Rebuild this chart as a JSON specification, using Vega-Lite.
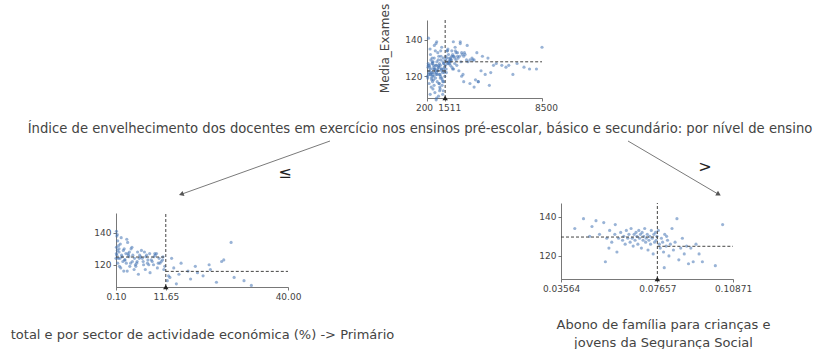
{
 "$schema": "https://vega.github.io/schema/vega-lite/v6.json",
 "padding": {"left": 0, "top": 3, "right": 0, "bottom": 0},
 "background": "white",
 "config": {
  "view": {"stroke": null},
  "font": "DejaVu Sans",
  "axis": {"domainColor": "#555555", "domainWidth": 0.8, "tickColor": "#555555", "tickSize": 3, "tickWidth": 0.8, "labelColor": "#444443", "labelFont": "DejaVu Sans", "labelFontSize": 9, "labelOverlap": false, "labelFlush": false, "labelPadding": 2, "grid": false, "titleFont": "DejaVu Sans", "titleFontWeight": "normal", "titleColor": "#444443"}
 },
 "datasets": {
  "pts": [
   {"indice":850,"primario":0.3,"exames":138},{"indice":420,"primario":0.5,"exames":135},{"indice":1210,"primario":0.2,"exames":131},{"indice":640,"primario":0.8,"exames":128},{"indice":980,"primario":1.1,"exames":133},{"indice":300,"primario":1.4,"exames":126},{"indice":1390,"primario":0.6,"exames":124},{"indice":720,"primario":2.0,"exames":130},{"indice":560,"primario":1.7,"exames":122},{"indice":1100,"primario":2.4,"exames":127},
   {"indice":260,"primario":0.9,"exames":119},{"indice":1450,"primario":3.1,"exames":125},{"indice":800,"primario":2.8,"exames":134},{"indice":930,"primario":3.5,"exames":121},{"indice":480,"primario":0.4,"exames":129},{"indice":1300,"primario":1.2,"exames":118},{"indice":670,"primario":4.0,"exames":126},{"indice":1050,"primario":3.8,"exames":131},{"indice":380,"primario":2.2,"exames":123},{"indice":1180,"primario":4.6,"exames":120},
   {"indice":590,"primario":5.1,"exames":128},{"indice":1420,"primario":0.2,"exames":127},{"indice":760,"primario":5.5,"exames":124},{"indice":350,"primario":1.9,"exames":116},{"indice":1010,"primario":6.0,"exames":129},{"indice":890,"primario":6.4,"exames":122},{"indice":1260,"primario":2.6,"exames":136},{"indice":520,"primario":3.3,"exames":119},{"indice":700,"primario":7.0,"exames":125},{"indice":1140,"primario":7.4,"exames":121},
   {"indice":450,"primario":0.7,"exames":132},{"indice":1340,"primario":4.3,"exames":117},{"indice":610,"primario":7.9,"exames":127},{"indice":960,"primario":8.3,"exames":123},{"indice":270,"primario":5.8,"exames":125},{"indice":1480,"primario":8.8,"exames":120},{"indice":830,"primario":9.2,"exames":126},{"indice":1070,"primario":1.5,"exames":125},{"indice":540,"primario":9.7,"exames":118},{"indice":1230,"primario":10.1,"exames":124},
   {"indice":740,"primario":10.6,"exames":122},{"indice":400,"primario":11.0,"exames":125},{"indice":1160,"primario":11.4,"exames":119},{"indice":880,"primario":3.0,"exames":126},{"indice":330,"primario":4.9,"exames":121},{"indice":1360,"primario":6.7,"exames":128},{"indice":620,"primario":2.5,"exames":121},{"indice":1040,"primario":0.3,"exames":126},{"indice":780,"primario":1.0,"exames":124},{"indice":1290,"primario":8.0,"exames":115},
   {"indice":460,"primario":6.2,"exames":124},{"indice":990,"primario":4.4,"exames":124},{"indice":1400,"primario":9.5,"exames":127},{"indice":570,"primario":3.6,"exames":130},{"indice":1120,"primario":5.3,"exames":114},{"indice":690,"primario":7.7,"exames":120},{"indice":290,"primario":2.9,"exames":127},{"indice":1460,"primario":10.9,"exames":123},{"indice":860,"primario":0.5,"exames":121},{"indice":1200,"primario":1.8,"exames":129},
   {"indice":510,"primario":8.5,"exames":122},{"indice":940,"primario":6.9,"exames":117},{"indice":1320,"primario":3.9,"exames":122},{"indice":650,"primario":0.1,"exames":124},{"indice":1080,"primario":9.9,"exames":121},{"indice":370,"primario":7.2,"exames":126},{"indice":820,"primario":4.7,"exames":119},{"indice":1250,"primario":2.1,"exames":123},{"indice":430,"primario":10.3,"exames":121},{"indice":1170,"primario":5.6,"exames":126},
   {"indice":730,"primario":1.3,"exames":137},{"indice":1020,"primario":8.9,"exames":125},{"indice":600,"primario":11.2,"exames":117},{"indice":1380,"primario":0.8,"exames":130},{"indice":910,"primario":3.2,"exames":128},{"indice":240,"primario":6.5,"exames":120},{"indice":1090,"primario":2.7,"exames":116},{"indice":550,"primario":9.1,"exames":127},{"indice":1440,"primario":5.0,"exames":122},{"indice":790,"primario":7.5,"exames":123},
   {"indice":310,"primario":0.2,"exames":141},{"indice":900,"primario":0.4,"exames":139},
   {"indice":1150,"primario":12.3,"exames":113},{"indice":680,"primario":13.5,"exames":118},{"indice":1330,"primario":12.0,"exames":110},{"indice":470,"primario":15.2,"exames":121},{"indice":1060,"primario":16.8,"exames":116},{"indice":890,"primario":14.1,"exames":108},{"indice":1270,"primario":18.5,"exames":119},{"indice":630,"primario":20.3,"exames":113},{"indice":1410,"primario":22.0,"exames":117},{"indice":770,"primario":17.4,"exames":111},
   {"indice":340,"primario":24.6,"exames":122},{"indice":1190,"primario":26.8,"exames":134},{"indice":950,"primario":25.1,"exames":123},{"indice":580,"primario":21.7,"exames":120},{"indice":1370,"primario":27.5,"exames":112},{"indice":710,"primario":19.0,"exames":115},{"indice":1030,"primario":23.4,"exames":109},{"indice":430,"primario":29.8,"exames":110},{"indice":1240,"primario":13.0,"exames":124},{"indice":860,"primario":31.5,"exames":107},
   {"indice":500,"primario":14.7,"exames":114},{"indice":1110,"primario":12.6,"exames":112},
   {"indice":1650,"abono":0.0415,"exames":134},{"indice":2100,"abono":0.0452,"exames":139},{"indice":1800,"abono":0.0478,"exames":130},{"indice":2600,"abono":0.0505,"exames":138},{"indice":1560,"abono":0.0520,"exames":131},{"indice":3100,"abono":0.0538,"exames":137},{"indice":1950,"abono":0.0551,"exames":129},{"indice":2300,"abono":0.0563,"exames":133},{"indice":1720,"abono":0.0572,"exames":127},{"indice":2850,"abono":0.0585,"exames":131},
   {"indice":1600,"abono":0.0594,"exames":122},{"indice":3600,"abono":0.0601,"exames":129},{"indice":2050,"abono":0.0610,"exames":132},{"indice":1900,"abono":0.0618,"exames":128},{"indice":2450,"abono":0.0623,"exames":130},{"indice":1530,"abono":0.0629,"exames":126},{"indice":2700,"abono":0.0634,"exames":133},{"indice":1850,"abono":0.0640,"exames":129},{"indice":4200,"abono":0.0645,"exames":131},{"indice":2200,"abono":0.0650,"exames":127},
   {"indice":1680,"abono":0.0654,"exames":134},{"indice":3300,"abono":0.0659,"exames":129},{"indice":2000,"abono":0.0663,"exames":125},{"indice":2550,"abono":0.0667,"exames":131},{"indice":1770,"abono":0.0671,"exames":128},{"indice":2950,"abono":0.0675,"exames":132},{"indice":1620,"abono":0.0679,"exames":130},{"indice":2350,"abono":0.0683,"exames":126},{"indice":3800,"abono":0.0687,"exames":133},{"indice":1930,"abono":0.0690,"exames":129},
   {"indice":2150,"abono":0.0694,"exames":131},{"indice":1580,"abono":0.0698,"exames":124},{"indice":2750,"abono":0.0701,"exames":132},{"indice":1820,"abono":0.0705,"exames":128},{"indice":4600,"abono":0.0708,"exames":130},{"indice":2250,"abono":0.0712,"exames":134},{"indice":1700,"abono":0.0716,"exames":127},{"indice":3050,"abono":0.0719,"exames":129},{"indice":1980,"abono":0.0723,"exames":131},{"indice":2500,"abono":0.0726,"exames":123},
   {"indice":1640,"abono":0.0730,"exames":128},{"indice":3450,"abono":0.0733,"exames":130},{"indice":1880,"abono":0.0737,"exames":126},{"indice":2400,"abono":0.0740,"exames":133},{"indice":1540,"abono":0.0744,"exames":129},{"indice":2800,"abono":0.0748,"exames":121},{"indice":2080,"abono":0.0751,"exames":131},{"indice":5200,"abono":0.0754,"exames":127},{"indice":1750,"abono":0.0758,"exames":132},{"indice":2650,"abono":0.0761,"exames":128},
   {"indice":1920,"abono":0.0764,"exames":130},{"indice":2120,"abono":0.0560,"exames":124},{"indice":1710,"abono":0.0488,"exames":135},{"indice":3900,"abono":0.0545,"exames":117},{"indice":2230,"abono":0.0587,"exames":136},
   {"indice":2900,"abono":0.0770,"exames":133},{"indice":6100,"abono":0.0774,"exames":126},{"indice":2050,"abono":0.0778,"exames":124},{"indice":3500,"abono":0.0783,"exames":129},{"indice":1830,"abono":0.0788,"exames":127},{"indice":4800,"abono":0.0792,"exames":122},{"indice":2400,"abono":0.0797,"exames":131},{"indice":7200,"abono":0.0803,"exames":125},{"indice":3150,"abono":0.0809,"exames":128},{"indice":2700,"abono":0.0815,"exames":120},
   {"indice":5600,"abono":0.0821,"exames":126},{"indice":1990,"abono":0.0828,"exames":134},{"indice":4100,"abono":0.0834,"exames":123},{"indice":6700,"abono":0.0841,"exames":127},{"indice":2600,"abono":0.0849,"exames":139},{"indice":3700,"abono":0.0857,"exames":118},{"indice":8100,"abono":0.0865,"exames":124},{"indice":2300,"abono":0.0872,"exames":129},{"indice":4400,"abono":0.0880,"exames":121},{"indice":5900,"abono":0.0890,"exames":125},
   {"indice":3300,"abono":0.0898,"exames":116},{"indice":7600,"abono":0.0908,"exames":124},{"indice":2850,"abono":0.0918,"exames":117},{"indice":5000,"abono":0.0930,"exames":126},{"indice":6400,"abono":0.0943,"exames":121},{"indice":3900,"abono":0.0957,"exames":117},{"indice":8500,"abono":0.1043,"exames":136},{"indice":4700,"abono":0.1012,"exames":115},{"indice":3600,"abono":0.0795,"exames":114},{"indice":2200,"abono":0.0805,"exames":130}
  ]
 },
 "spacing": 0,
 "vconcat": [
  {"spacing": 0, "hconcat": [
   {"width": 378, "height": 1, "data": {"values": []}, "mark": "point"},
   {"width": 115, "height": 78,
    "layer": [
     {"data": {"name": "pts"}, "mark": {"type": "point", "filled": true, "size": 10, "opacity": 0.55, "color": "#4575b4"},
      "encoding": {
       "x": {"field": "indice", "type": "quantitative", "scale": {"domain": [200, 8500], "nice": false, "zero": false}, "axis": {"values": [200, 1511, 8500], "format": "d", "title": null, "labelOffset": {"condition": {"test": "datum.value < 1000", "value": -3}, "value": 4}}},
       "y": {"field": "exames", "type": "quantitative", "scale": {"domain": [108, 151], "nice": false, "zero": false}, "axis": {"values": [120, 140], "title": "Media_Exames", "titleFontSize": 12, "titleY": 28, "titlePadding": 13}}
      }},
     {"data": {"name": "pts"}, "transform": [{"filter": "datum.indice <= 1511"}, {"aggregate": [{"op": "mean", "field": "exames", "as": "m"}]}],
      "mark": {"type": "rule", "strokeDash": [3, 2], "color": "#444443", "strokeWidth": 1},
      "encoding": {"x": {"datum": 200}, "x2": {"datum": 1511}, "y": {"field": "m", "type": "quantitative"}}},
     {"data": {"name": "pts"}, "transform": [{"filter": "datum.indice > 1511"}, {"aggregate": [{"op": "mean", "field": "exames", "as": "m"}]}],
      "mark": {"type": "rule", "strokeDash": [3, 2], "color": "#444443", "strokeWidth": 1},
      "encoding": {"x": {"datum": 1511}, "x2": {"datum": 8500}, "y": {"field": "m", "type": "quantitative"}}},
     {"data": {"values": [{}]}, "mark": {"type": "rule", "strokeDash": [3, 2], "color": "#444443", "strokeWidth": 1},
      "encoding": {"x": {"datum": 1511}, "y": {"datum": 108}, "y2": {"datum": 151}}},
     {"data": {"values": [{}]}, "mark": {"type": "point", "shape": "triangle-up", "filled": true, "size": 30, "color": "#222222", "opacity": 1},
      "encoding": {"x": {"datum": 1511}, "y": {"datum": 108}}}
    ]}
  ]},
  {"width": 818, "height": 90,
   "data": {"values": [{}]},
   "layer": [
    {"data": {"values": [{"t": "Índice de envelhecimento dos docentes em exercício  nos ensinos pré-escolar, básico e secundário: por nível de ensino"}]},
     "mark": {"type": "text", "fontSize": 13.2, "color": "#444443", "font": "DejaVu Sans", "baseline": "middle", "align": "center"},
     "encoding": {"x": {"datum": 420, "scale": {"domain": [0, 818], "nice": false, "zero": false}, "axis": null}, "y": {"datum": 17, "scale": {"domain": [0, 90], "nice": false, "zero": false, "reverse": true}, "axis": null}, "text": {"field": "t"}}},
    {"mark": {"type": "rule", "color": "#7a7a7a", "strokeWidth": 1},
     "encoding": {"x": {"datum": 330, "axis": null}, "y": {"datum": 29, "axis": null}, "x2": {"datum": 182}, "y2": {"datum": 82}}},
    {"mark": {"type": "rule", "color": "#7a7a7a", "strokeWidth": 1},
     "encoding": {"x": {"datum": 628, "axis": null}, "y": {"datum": 29, "axis": null}, "x2": {"datum": 718}, "y2": {"datum": 82}}},
    {"mark": {"type": "point", "shape": "triangle", "filled": true, "size": 30, "color": "#555555", "opacity": 1, "angle": 250},
     "encoding": {"x": {"datum": 182, "axis": null}, "y": {"datum": 82, "axis": null}}},
    {"mark": {"type": "point", "shape": "triangle", "filled": true, "size": 30, "color": "#555555", "opacity": 1, "angle": 120},
     "encoding": {"x": {"datum": 718, "axis": null}, "y": {"datum": 82, "axis": null}}},
    {"mark": {"type": "text", "text": "≤", "fontSize": 16, "color": "#222222", "baseline": "middle"},
     "encoding": {"x": {"datum": 285, "axis": null}, "y": {"datum": 61, "axis": null}}},
    {"mark": {"type": "text", "text": ">", "fontSize": 16, "color": "#222222", "baseline": "middle"},
     "encoding": {"x": {"datum": 705, "axis": null}, "y": {"datum": 55, "axis": null}}}
   ]},
  {"spacing": 0, "hconcat": [
   {"width": 10, "height": 1, "data": {"values": []}, "mark": "point"},
   {"spacing": 0, "vconcat": [
    {"width": 1, "height": 9, "data": {"values": []}, "mark": "point"},
    {"width": 172, "height": 74,
     "layer": [
      {"data": {"name": "pts"}, "transform": [{"filter": "isValid(datum.primario)"}],
       "mark": {"type": "point", "filled": true, "size": 10, "opacity": 0.55, "color": "#4575b4"},
       "encoding": {
        "x": {"field": "primario", "type": "quantitative", "scale": {"domain": [0.1, 40], "nice": false, "zero": false}, "axis": {"values": [0.1, 11.65, 40], "format": ".2f", "title": "total e por sector de actividade económica (%) -> Primário", "titleFontSize": 13, "titlePadding": 27}},
        "y": {"field": "exames", "type": "quantitative", "scale": {"domain": [106, 152.5], "nice": false, "zero": false}, "axis": {"values": [120, 140], "title": null}}
       }},
      {"data": {"name": "pts"}, "transform": [{"filter": "isValid(datum.primario) && datum.primario <= 11.65"}, {"aggregate": [{"op": "mean", "field": "exames", "as": "m"}]}],
       "mark": {"type": "rule", "strokeDash": [3, 2], "color": "#444443", "strokeWidth": 1},
       "encoding": {"x": {"datum": 0.1}, "x2": {"datum": 11.65}, "y": {"field": "m", "type": "quantitative"}}},
      {"data": {"name": "pts"}, "transform": [{"filter": "isValid(datum.primario) && datum.primario > 11.65"}, {"aggregate": [{"op": "mean", "field": "exames", "as": "m"}]}],
       "mark": {"type": "rule", "strokeDash": [3, 2], "color": "#444443", "strokeWidth": 1},
       "encoding": {"x": {"datum": 11.65}, "x2": {"datum": 40}, "y": {"field": "m", "type": "quantitative"}}},
      {"data": {"values": [{}]}, "mark": {"type": "rule", "strokeDash": [3, 2], "color": "#444443", "strokeWidth": 1},
       "encoding": {"x": {"datum": 11.65}, "y": {"datum": 106}, "y2": {"datum": 152.5}}},
      {"data": {"values": [{}]}, "mark": {"type": "point", "shape": "triangle-up", "filled": true, "size": 30, "color": "#222222", "opacity": 1},
       "encoding": {"x": {"datum": 11.65}, "y": {"datum": 106}}}
     ]}
   ]},
   {"width": 144, "height": 1, "data": {"values": []}, "mark": "point"},
   {"width": 172, "height": 76,
    "layer": [
     {"data": {"name": "pts"}, "transform": [{"filter": "isValid(datum.abono)"}],
      "mark": {"type": "point", "filled": true, "size": 10, "opacity": 0.55, "color": "#4575b4"},
      "encoding": {
       "x": {"field": "abono", "type": "quantitative", "scale": {"domain": [0.03564, 0.10871], "nice": false, "zero": false}, "axis": {"values": [0.03564, 0.07657, 0.10871], "format": ".5f", "title": ["Abono de família para crianças e", "jovens da Segurança Social"], "titleFontSize": 13, "titleLineHeight": 18, "titlePadding": 25, "titleX": 102}},
       "y": {"field": "exames", "type": "quantitative", "scale": {"domain": [108.2, 147], "nice": false, "zero": false}, "axis": {"values": [120, 140], "title": null}}
      }},
     {"data": {"name": "pts"}, "transform": [{"filter": "isValid(datum.abono) && datum.abono <= 0.07657"}, {"aggregate": [{"op": "mean", "field": "exames", "as": "m"}]}],
      "mark": {"type": "rule", "strokeDash": [3, 2], "color": "#444443", "strokeWidth": 1},
      "encoding": {"x": {"datum": 0.03564}, "x2": {"datum": 0.07657}, "y": {"field": "m", "type": "quantitative"}}},
     {"data": {"name": "pts"}, "transform": [{"filter": "isValid(datum.abono) && datum.abono > 0.07657"}, {"aggregate": [{"op": "mean", "field": "exames", "as": "m"}]}],
      "mark": {"type": "rule", "strokeDash": [3, 2], "color": "#444443", "strokeWidth": 1},
      "encoding": {"x": {"datum": 0.07657}, "x2": {"datum": 0.10871}, "y": {"field": "m", "type": "quantitative"}}},
     {"data": {"values": [{}]}, "mark": {"type": "rule", "strokeDash": [3, 2], "color": "#444443", "strokeWidth": 1},
      "encoding": {"x": {"datum": 0.07657}, "y": {"datum": 108.2}, "y2": {"datum": 147}}},
     {"data": {"values": [{}]}, "mark": {"type": "point", "shape": "triangle-up", "filled": true, "size": 30, "color": "#222222", "opacity": 1},
      "encoding": {"x": {"datum": 0.07657}, "y": {"datum": 108.2}}}
    ]}
  ]}
 ]
}
